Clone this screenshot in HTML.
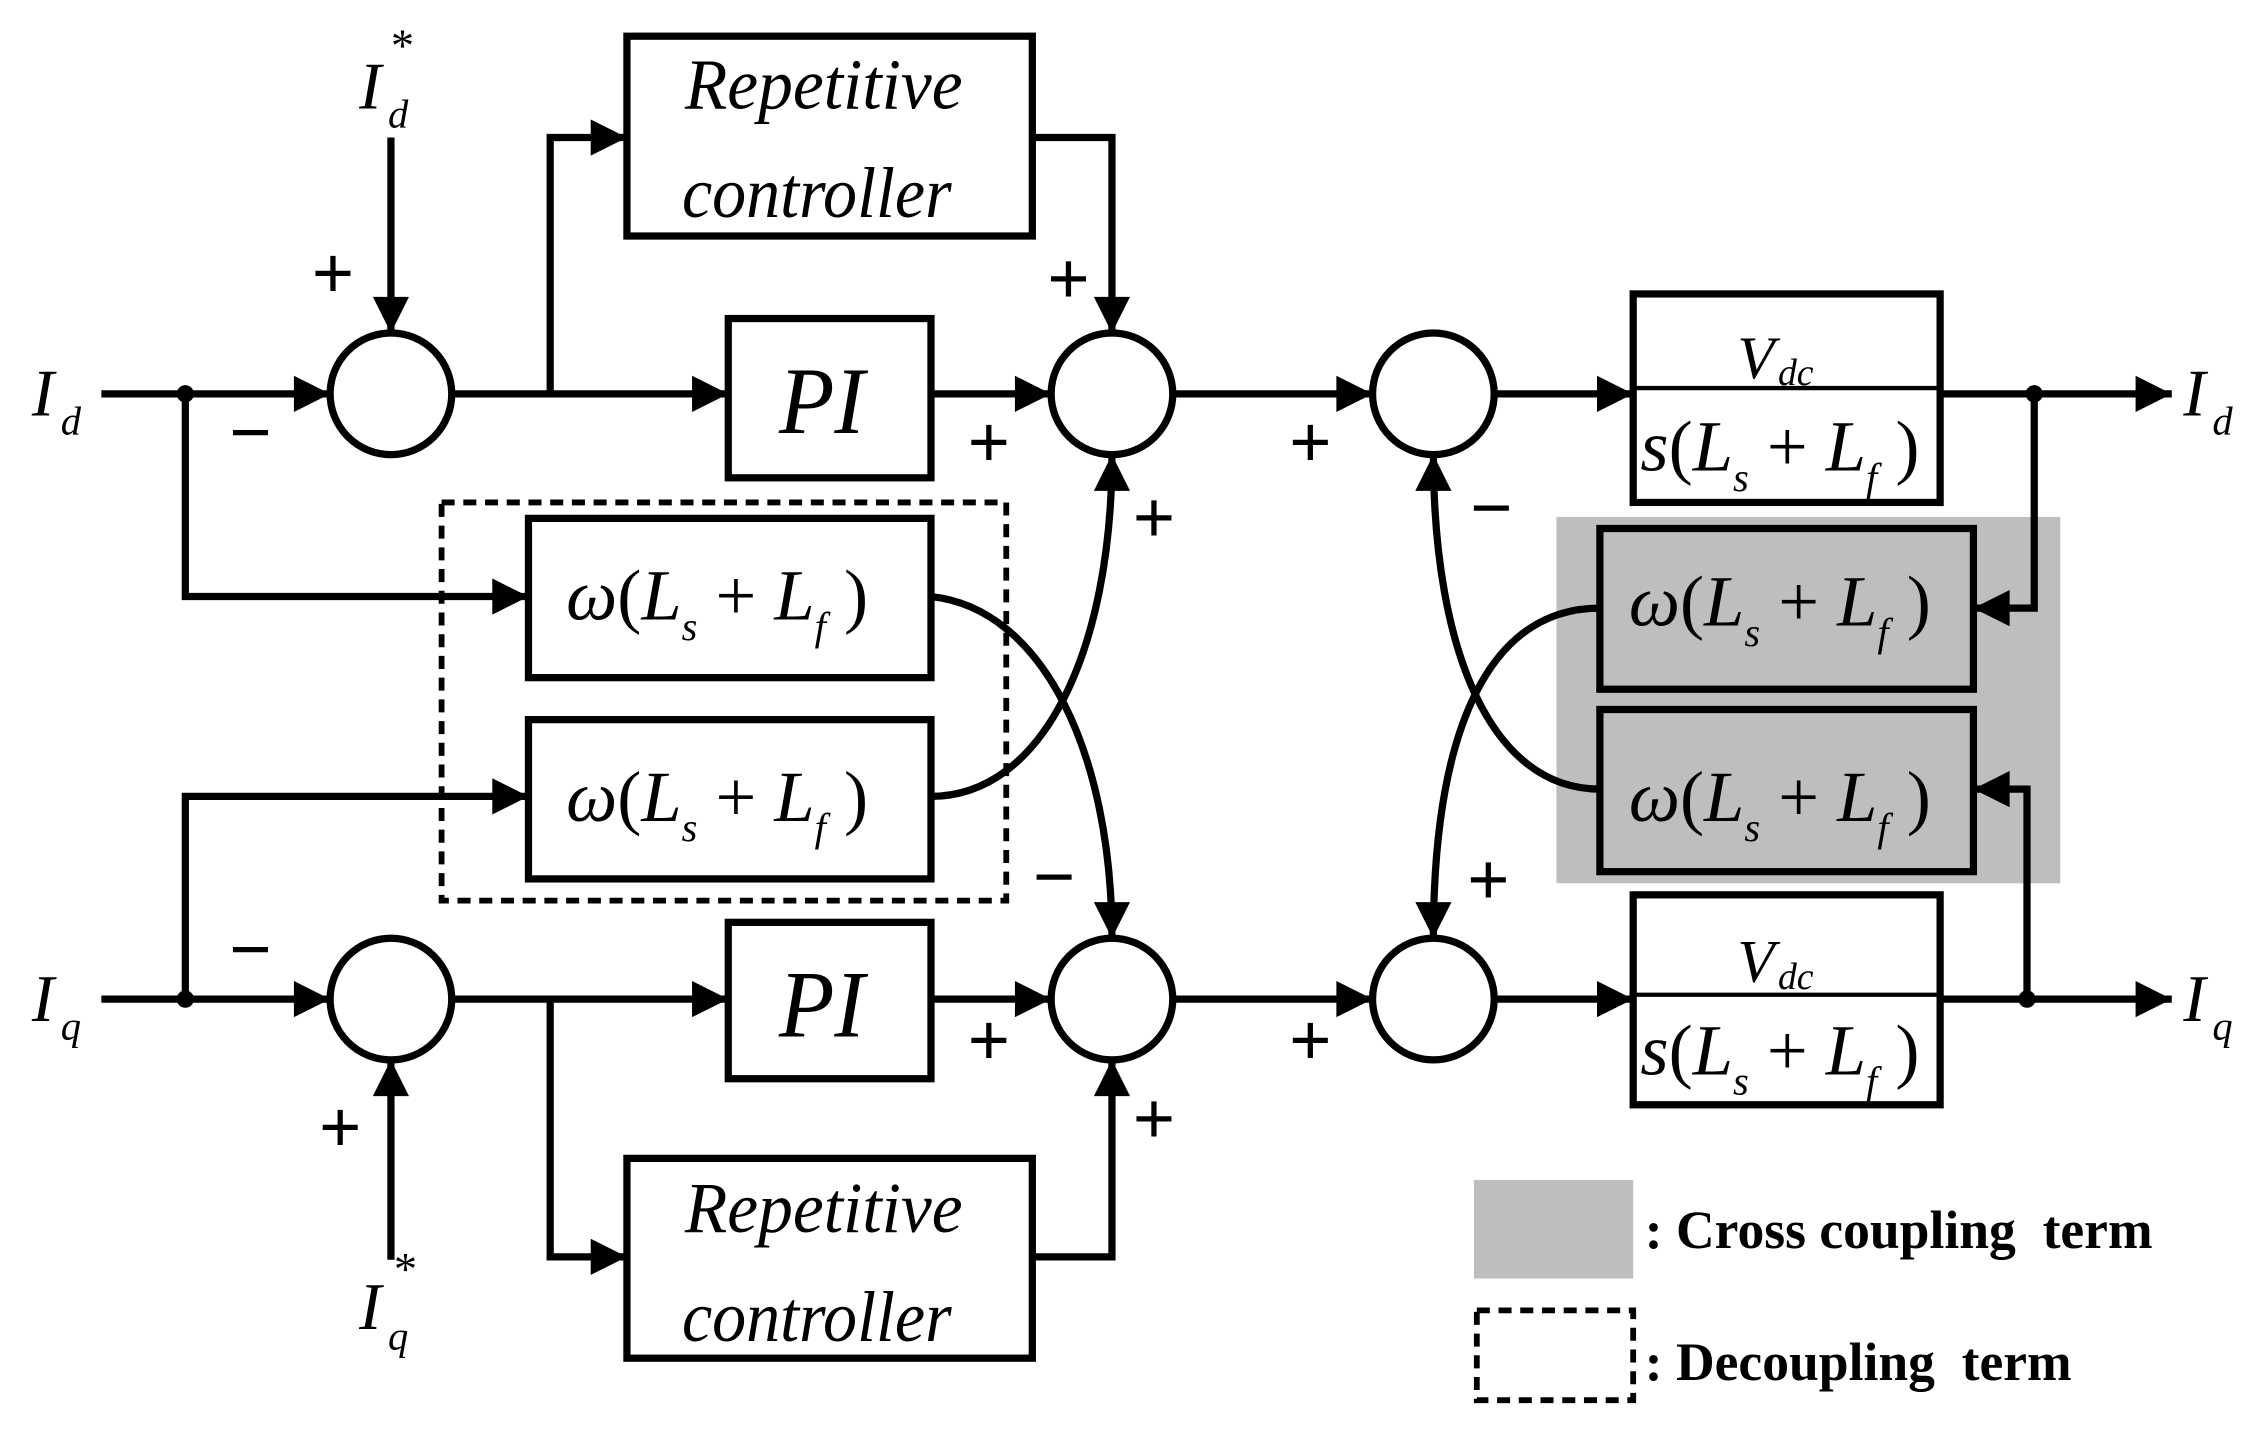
<!DOCTYPE html>
<html><head><meta charset="utf-8"><style>
html,body{margin:0;padding:0;background:#fff;}
svg{display:block;}
text{font-family:"Liberation Serif",serif;fill:#000;}
.i{font-style:italic;}
.s{font-family:"Liberation Sans",sans-serif;font-weight:bold;}
</style></head><body>
<svg width="2263" height="1430" viewBox="0 0 1563 987.6" preserveAspectRatio="none" xmlns="http://www.w3.org/2000/svg">
<defs>
<marker id="a" viewBox="0 0 10 10" refX="10" refY="5" markerWidth="5.5" markerHeight="5" markerUnits="strokeWidth" orient="auto"><path d="M0,0L10,5L0,10z" fill="#000"/></marker>
</defs>
<g stroke="#000" stroke-width="5" fill="none">
<rect x="1075" y="357" width="348" height="253" fill="#bebebe" stroke="none"/>
<rect x="1018" y="815" width="110" height="68" fill="#bebebe" stroke="none"/>
<rect x="305" y="347" width="390" height="275" stroke-dasharray="9,6" stroke-width="4"/>
<rect x="1020" y="905" width="108" height="62" stroke-dasharray="9,6" stroke-width="4"/>
<rect x="433" y="25" width="280" height="138"/>
<rect x="503" y="220" width="140" height="110"/>
<rect x="365" y="358" width="278" height="110"/>
<rect x="365" y="497" width="278" height="110"/>
<rect x="503" y="637" width="140" height="108"/>
<rect x="433" y="800" width="280" height="138"/>
<rect x="1128" y="203" width="212" height="144"/>
<line x1="1128" y1="268" x2="1340" y2="268" stroke-width="3"/>
<rect x="1128" y="618" width="212" height="145"/>
<line x1="1128" y1="687" x2="1340" y2="687" stroke-width="3"/>
<rect x="1105" y="365" width="258" height="111" fill="#bebebe"/>
<rect x="1105" y="490" width="258" height="112" fill="#bebebe"/>
<circle cx="270" cy="272" r="42"/><circle cx="768" cy="272" r="42"/><circle cx="990" cy="272" r="42"/>
<circle cx="270" cy="690" r="42"/><circle cx="768" cy="690" r="42"/><circle cx="990" cy="690" r="42"/>
<path d="M70,272H228" marker-end="url(#a)"/>
<path d="M270,95V230" marker-end="url(#a)"/>
<path d="M312,272H503" marker-end="url(#a)"/>
<path d="M380,272V95H433" marker-end="url(#a)"/>
<path d="M713,95H768V230" marker-end="url(#a)"/>
<path d="M643,272H726" marker-end="url(#a)"/>
<path d="M810,272H948" marker-end="url(#a)"/>
<path d="M1032,272H1128" marker-end="url(#a)"/>
<path d="M1340,272H1500" marker-end="url(#a)"/>
<path d="M1405,272V420H1363" marker-end="url(#a)"/>
<path d="M128,272V412H365" marker-end="url(#a)"/>
<path d="M70,690H228" marker-end="url(#a)"/>
<path d="M270,870V732" marker-end="url(#a)"/>
<path d="M312,690H503" marker-end="url(#a)"/>
<path d="M380,690V868H433" marker-end="url(#a)"/>
<path d="M713,868H768V732" marker-end="url(#a)"/>
<path d="M643,690H726" marker-end="url(#a)"/>
<path d="M810,690H948" marker-end="url(#a)"/>
<path d="M1032,690H1128" marker-end="url(#a)"/>
<path d="M1340,690H1500" marker-end="url(#a)"/>
<path d="M1400,690V545H1363" marker-end="url(#a)"/>
<path d="M128,690V550H365" marker-end="url(#a)"/>
<path d="M643,412C720,420 768,520 768,648" marker-end="url(#a)"/>
<path d="M643,550C720,550 768,450 768,314" marker-end="url(#a)"/>
<path d="M1105,420C1030,420 990,500 990,648" marker-end="url(#a)"/>
<path d="M1105,545C1030,545 990,450 990,314" marker-end="url(#a)"/>
</g>
<g fill="#000">
<circle cx="128" cy="272" r="6"/><circle cx="128" cy="690" r="6"/>
<circle cx="1405" cy="272" r="6"/><circle cx="1400" cy="690" r="6"/>
</g>
<g class="i">
<text x="22" y="287" font-size="46">I</text><text x="42" y="300" font-size="28">d</text>
<text x="22" y="705" font-size="46">I</text><text x="42" y="718" font-size="28">q</text>
<text x="1508" y="287" font-size="46">I</text><text x="1528" y="300" font-size="28">d</text>
<text x="1508" y="705" font-size="46">I</text><text x="1528" y="718" font-size="28">q</text>
<text x="248" y="75" font-size="46">I</text><text x="268" y="88" font-size="28">d</text>
<text x="248" y="918" font-size="46">I</text><text x="268" y="932" font-size="28">q</text>
<text transform="translate(473,75) scale(0.96,1)" font-size="50">Repetitive</text>
<text transform="translate(471,150) scale(0.94,1)" font-size="50">controller</text>
<text transform="translate(473,851) scale(0.96,1)" font-size="50">Repetitive</text>
<text transform="translate(471,926) scale(0.94,1)" font-size="50">controller</text>
<text transform="translate(538,299) scale(0.95,1)" font-size="66">PI</text>
<text transform="translate(538,716) scale(0.95,1)" font-size="66">PI</text>
<text x="1200" y="261" font-size="42">V</text><text x="1228" y="266" font-size="26">dc</text>
<text x="1200" y="678" font-size="42">V</text><text x="1228" y="683" font-size="26">dc</text>
</g>
<text x="270" y="42" font-size="32">*</text>
<text x="272" y="887" font-size="32">*</text>
<g font-size="50">
<text x="1133" y="325"><tspan class="i">s</tspan>(<tspan class="i">L</tspan><tspan class="i" font-size="28" dy="14">s</tspan><tspan dy="-14"> + </tspan><tspan class="i">L</tspan><tspan class="i" font-size="28" dy="14">f</tspan><tspan dy="-14"> )</tspan></text>
<text x="1133" y="742"><tspan class="i">s</tspan>(<tspan class="i">L</tspan><tspan class="i" font-size="28" dy="14">s</tspan><tspan dy="-14"> + </tspan><tspan class="i">L</tspan><tspan class="i" font-size="28" dy="14">f</tspan><tspan dy="-14"> )</tspan></text>
<text x="391" y="428"><tspan class="i">ω</tspan>(<tspan class="i">L</tspan><tspan class="i" font-size="28" dy="14">s</tspan><tspan dy="-14"> + </tspan><tspan class="i">L</tspan><tspan class="i" font-size="28" dy="14">f</tspan><tspan dy="-14"> )</tspan></text>
<text x="391" y="567"><tspan class="i">ω</tspan>(<tspan class="i">L</tspan><tspan class="i" font-size="28" dy="14">s</tspan><tspan dy="-14"> + </tspan><tspan class="i">L</tspan><tspan class="i" font-size="28" dy="14">f</tspan><tspan dy="-14"> )</tspan></text>
<text x="1125" y="432"><tspan class="i">ω</tspan>(<tspan class="i">L</tspan><tspan class="i" font-size="28" dy="14">s</tspan><tspan dy="-14"> + </tspan><tspan class="i">L</tspan><tspan class="i" font-size="28" dy="14">f</tspan><tspan dy="-14"> )</tspan></text>
<text x="1125" y="567"><tspan class="i">ω</tspan>(<tspan class="i">L</tspan><tspan class="i" font-size="28" dy="14">s</tspan><tspan dy="-14"> + </tspan><tspan class="i">L</tspan><tspan class="i" font-size="28" dy="14">f</tspan><tspan dy="-14"> )</tspan></text>
</g>
<g class="s" font-size="52" text-anchor="middle">
<text x="230" y="206">+</text><text x="173" y="316">−</text>
<text x="738" y="210">+</text><text x="683" y="323">+</text><text x="797" y="375">+</text>
<text x="905" y="323">+</text><text x="1030" y="368">−</text>
<text x="728" y="623">−</text><text x="1028" y="625">+</text>
<text x="173" y="673">−</text><text x="683" y="736">+</text><text x="797" y="790">+</text>
<text x="905" y="736">+</text><text x="235" y="796">+</text>
</g>
<g font-size="37" font-weight="bold">
<text x="1136" y="862" xml:space="preserve">: Cross coupling  term</text>
<text x="1136" y="953" xml:space="preserve">: Decoupling  term</text>
</g>
</svg>
</body></html>
